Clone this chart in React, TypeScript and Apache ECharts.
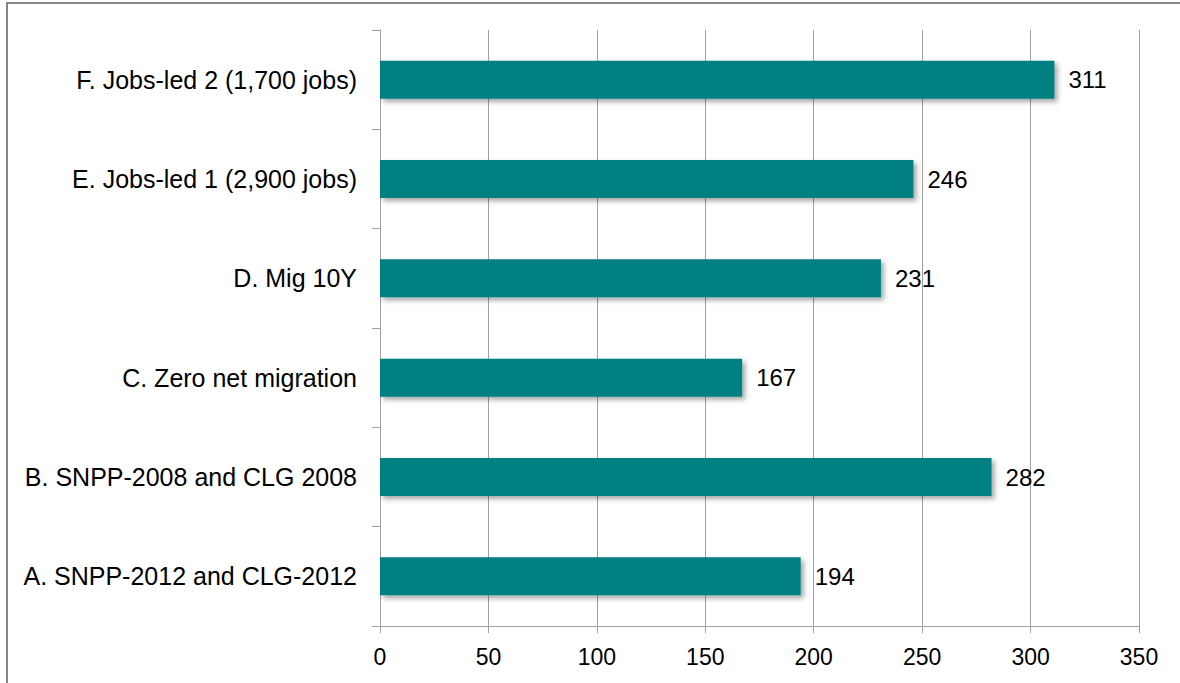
import React, { useEffect, useRef } from "react";
import * as echarts from "echarts";

// Scenario names, bottom to top on the category axis
const categories: string[] = [
  "A. SNPP-2012 and CLG-2012",
  "B. SNPP-2008 and CLG 2008",
  "C. Zero net migration",
  "D. Mig 10Y",
  "E. Jobs-led 1 (2,900 jobs)",
  "F. Jobs-led 2 (1,700 jobs)",
];

const values: number[] = [194, 282, 167, 231, 246, 311];

const axisMin = 0;
const axisMax = 350;
const axisStep = 50;

const FONT = "'Liberation Sans', Arial, sans-serif";

export default function App() {
  const ref = useRef<HTMLDivElement>(null);

  useEffect(() => {
    if (!ref.current) return;
    const chart = echarts.init(ref.current, null, { renderer: "svg" });
    chart.setOption({
      animation: false,
      backgroundColor: "#ffffff",
      textStyle: { fontFamily: FONT },
      graphic: [
        {
          type: "rect",
          shape: { x: 7, y: 3, width: 1300, height: 800 },
          style: { fill: "none", stroke: "#868686", lineWidth: 2 },
          silent: true,
        },
      ],
      grid: { left: 380, right: 41, top: 30, bottom: 57, containLabel: false },
      xAxis: {
        type: "value",
        min: axisMin,
        max: axisMax,
        interval: axisStep,
        axisLine: { show: true, lineStyle: { color: "#a0a0a0", width: 1 } },
        axisTick: { show: true, length: 7, lineStyle: { color: "#a0a0a0" } },
        axisLabel: { color: "#000", fontSize: 23, fontFamily: FONT, margin: 19 },
        splitLine: { show: true, lineStyle: { color: "#a0a0a0", width: 1 } },
      },
      yAxis: {
        type: "category",
        data: categories,
        axisLine: { show: true, lineStyle: { color: "#a0a0a0", width: 1 } },
        axisTick: { show: true, length: 8, lineStyle: { color: "#a0a0a0" } },
        axisLabel: { color: "#000", fontSize: 25, fontFamily: FONT, margin: 23 },
        splitLine: { show: false },
      },
      series: [
        {
          type: "bar",
          data: values,
          barWidth: 38,
          itemStyle: {
            color: "#008080",
            shadowBlur: 5,
            shadowOffsetX: 3,
            shadowOffsetY: 3,
            shadowColor: "rgba(0,0,0,0.35)",
          },
          label: {
            show: true,
            position: "right",
            distance: 14,
            color: "#000",
            fontSize: 24,
            fontFamily: FONT,
          },
        },
      ],
    });
    return () => chart.dispose();
  }, []);

  return (
    <div
      ref={ref}
      style={{ position: "fixed", left: 0, top: 0, width: 1180, height: 683 }}
    />
  );
}
